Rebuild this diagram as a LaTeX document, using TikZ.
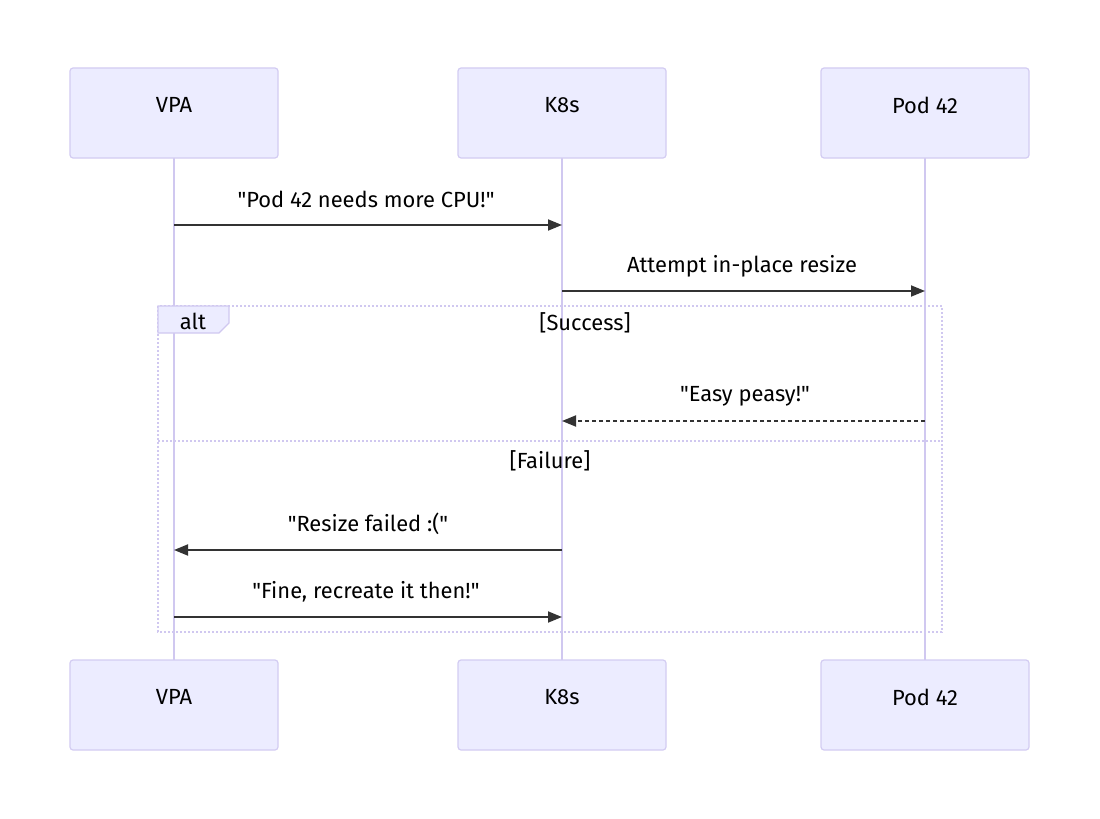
\documentclass[tikz,border=0pt]{standalone}
\usepackage{fontspec}
\setmainfont[Ligatures=TeXOff]{Fira Sans}
\usetikzlibrary{arrows.meta}
\definecolor{actfill}{HTML}{ECECFF}
\definecolor{actborder}{HTML}{D3CCF2}
\definecolor{lifeline}{HTML}{D0C8F0}
\definecolor{loopline}{HTML}{D0C8F0}
\definecolor{msg}{HTML}{333333}
\newcommand{\dq}{\symbol{34}}
\tikzset{
  actor/.style={draw=actborder, fill=actfill, line width=1.2bp, rounded corners=3bp, minimum width=208bp, minimum height=90bp, inner sep=0pt},
  actlbl/.style={font=\fontsize{22}{26}\selectfont, text=black, inner sep=0pt},
  life/.style={draw=lifeline, line width=2bp},
  msgline/.style={draw=msg, line width=1.8bp, -{Triangle[length=14bp,width=11bp]}},
  msgdash/.style={msgline, dash pattern=on 4bp off 3bp},
  lbl/.style={font=\fontsize{22}{26}\selectfont, text=black, inner sep=0pt},
  altbox/.style={draw=loopline, line width=2bp, dash pattern=on 2bp off 2bp},
}
\begin{document}
\begin{tikzpicture}[x=1bp,y=-1bp]
\useasboundingbox (0,0) rectangle (1100,819);
% lifelines
\coordinate (vt) at (174,158); \coordinate (vb) at (174,660);
\coordinate (kt) at (562,158); \coordinate (kb) at (562,660);
\coordinate (pt) at (925,158); \coordinate (pb) at (925,660);
\draw[life] (vt) -- (vb);
\draw[life] (kt) -- (kb);
\draw[life] (pt) -- (pb);
% actors
\node[actor] (vpa) at (174,113) {};
\node[actor] (k8s) at (562,113) {};
\node[actor] (pod) at (925,113) {};
\node[actor] (vpa2) at (174,705) {};
\node[actor] (k8s2) at (562,705) {};
\node[actor] (pod2) at (925,705) {};
\node[actlbl] at (174,105) {VPA};
\node[actlbl] at (562,105) {K8s};
\node[actlbl] at (925,105) {Pod 42};
\node[actlbl] at (174,697) {VPA};
\node[actlbl] at (562,697) {K8s};
\node[actlbl] at (925,697) {Pod 42};
% alt box
\draw[altbox] (158,306) rectangle (942,632);
\draw[altbox] (158,441) -- (942,441);
\fill[actfill] (158,306) -- (229,306) -- (229,323) -- (219,333) -- (158,333) -- cycle;
\draw[loopline, line width=1.2bp] (158,306) -- (229,306) -- (229,323) -- (219,333) -- (158,333) -- cycle;
\node[lbl] (alt) at (193,321) {alt};
\node[lbl] (succ) at (585,323) {[Success]};
\node[lbl] (fail) at (550,461) {[Failure]};
% messages
\coordinate (m1a) at (174,225); \coordinate (m1b) at (562,225);
\draw[msgline] (m1a) -- (m1b);
\node[lbl] (t1) at (366,199) {\dq Pod 42 needs more CPU!\dq};
\coordinate (m2a) at (562,291); \coordinate (m2b) at (925,291);
\draw[msgline] (m2a) -- (m2b);
\node[lbl] (t2) at (742,266) {Attempt in-place resize};
\coordinate (m3a) at (925,421); \coordinate (m3b) at (562,421);
\draw[msgdash] (m3a) -- (m3b);
\node[lbl] (t3) at (745,396) {\dq Easy peasy!\dq};
\coordinate (m4a) at (562,550); \coordinate (m4b) at (174,550);
\draw[msgline] (m4a) -- (m4b);
\node[lbl] (t4) at (368,524) {\dq Resize failed :(\dq};
\coordinate (m5a) at (174,617); \coordinate (m5b) at (562,617);
\draw[msgline] (m5a) -- (m5b);
\node[lbl] (t5) at (366,592) {\dq Fine, recreate it then!\dq};
\end{tikzpicture}
\end{document}
